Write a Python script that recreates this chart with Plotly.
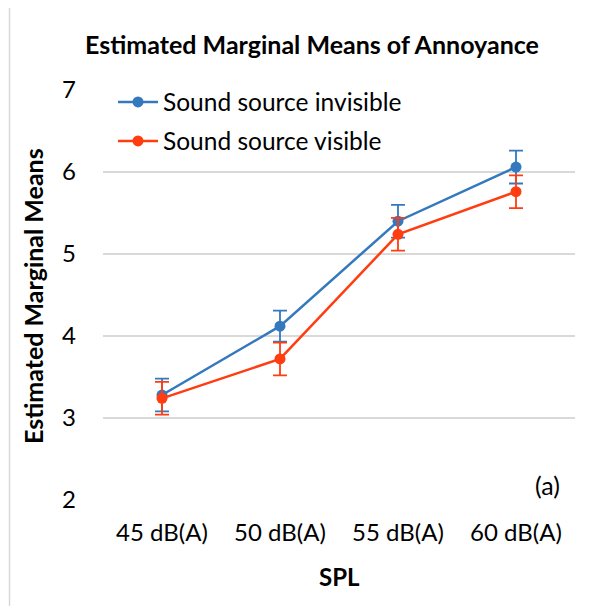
import plotly.graph_objects as go

categories = ["45 dB(A)", "50 dB(A)", "55 dB(A)", "60 dB(A)"]
invisible_means = [3.28, 4.12, 5.40, 6.06]
invisible_err = [0.20, 0.19, 0.20, 0.20]
visible_means = [3.24, 3.72, 5.24, 5.76]
visible_err = [0.20, 0.20, 0.20, 0.20]
y_ticks = [2, 3, 4, 5, 6, 7]

FONT = "Lato"
BLUE = "#3478BE"
RED = "#FF3D10"
GRID = "#D9D9D9"

OFF = 8  # page body margin offset
W, H = 603, 606
# target on-screen plot area: x 103..575, y 90..500
L, T = 103 - OFF, 90 - OFF
pw, ph = 472, 410
R = W - L - pw
B = H - T - ph

def px_x(x):
    return (x - OFF - L) / pw

def px_y(y):
    return (H - B - (y - OFF)) / ph

fig = go.Figure()
fig.add_trace(go.Scatter(
    x=categories, y=invisible_means, name="Sound source invisible",
    mode="lines+markers",
    line=dict(color=BLUE, width=2.5),
    marker=dict(color=BLUE, size=11),
    error_y=dict(type="data", array=invisible_err, color=BLUE, thickness=1.8, width=7),
    legend="legend",
))
fig.add_trace(go.Scatter(
    x=categories, y=visible_means, name="Sound source visible",
    mode="lines+markers",
    line=dict(color=RED, width=2.5),
    marker=dict(color=RED, size=11),
    error_y=dict(type="data", array=visible_err, color=RED, thickness=1.8, width=7),
    legend="legend2",
))

fig.update_layout(
    width=W, height=H,
    margin=dict(l=L, r=R, t=T, b=B),
    paper_bgcolor="white", plot_bgcolor="white",
    font=dict(family=FONT, color="#000000", size=24),
    title=dict(text="<b>Estimated Marginal Means of Annoyance</b>",
               x=(312 - OFF) / W, xref="container", xanchor="center",
               y=1 - (45 - OFF) / H, yref="container", yanchor="middle",
               font=dict(size=25, family=FONT, color="#000")),
    showlegend=True,
    legend=dict(x=px_x(113), y=px_y(102), xanchor="left", yanchor="middle",
                itemwidth=40,
                bgcolor="rgba(0,0,0,0)", font=dict(size=24.5, family=FONT)),
    legend2=dict(x=px_x(113), y=px_y(141), xanchor="left", yanchor="middle",
                 itemwidth=40,
                 bgcolor="rgba(0,0,0,0)", font=dict(size=24.5, family=FONT)),
    xaxis=dict(type="category", showgrid=False, showline=False, zeroline=False,
               ticks="", tickfont=dict(size=24, family=FONT),
               ticklabelstandoff=16, range=[-0.5, 3.5]),
    yaxis=dict(range=[2, 7], tickvals=y_ticks, showgrid=True, gridcolor=GRID,
               gridwidth=1.5, zeroline=False, showline=False, ticks="",
               tickfont=dict(size=24, family=FONT), ticklabelstandoff=26),
    annotations=[
        dict(text="<b>Estimated Marginal Means</b>", textangle=-90,
             x=px_x(33), y=px_y(296), xref="paper", yref="paper",
             xanchor="center", yanchor="middle",
             showarrow=False, font=dict(size=25, family=FONT)),
        dict(text="<b>SPL</b>", x=px_x(339), y=px_y(576), xref="paper", yref="paper",
             xanchor="center", yanchor="middle",
             showarrow=False, font=dict(size=24, family=FONT)),
        dict(text="(a)", x=px_x(547), y=px_y(485), xref="paper", yref="paper",
             xanchor="center", yanchor="middle",
             showarrow=False, font=dict(size=25, family=FONT)),
    ],
    shapes=[
        dict(type="rect", xref="paper", yref="paper",
             x0=px_x(9.5), y0=px_y(700), x1=px_x(700), y1=px_y(5.5),
             line=dict(color=GRID, width=1.5), fillcolor="rgba(0,0,0,0)", layer="below"),
    ],
)

fig.write_html("out.html")
